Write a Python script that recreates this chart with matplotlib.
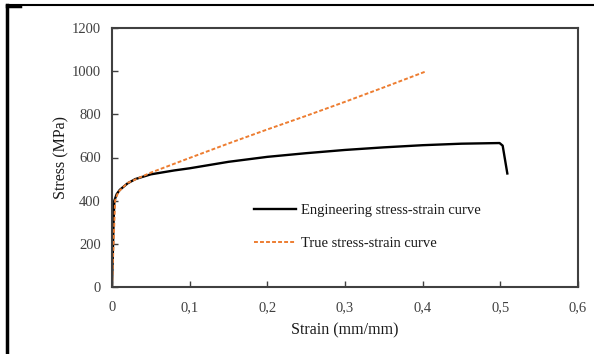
import matplotlib
matplotlib.use("Agg")
import matplotlib.pyplot as plt
from matplotlib.lines import Line2D

eng_strain = [0, 0.001, 0.002, 0.003, 0.006, 0.01, 0.02, 0.03, 0.05, 0.08, 0.1, 0.15,
              0.2, 0.25, 0.3, 0.35, 0.4, 0.45, 0.499, 0.503, 0.509]
eng_stress = [0, 150, 300, 400, 430, 450, 480, 500, 522, 540, 550, 580,
              603, 620, 635, 647, 657, 664, 667, 655, 526]

true_strain = [0, 0.002, 0.004, 0.008, 0.02, 0.05, 0.1, 0.15, 0.2, 0.25, 0.3, 0.35, 0.405]
true_stress = [0, 200, 400, 440, 482, 530, 598, 665, 730, 793, 858, 925, 1000]

x_ticks = [0, 0.1, 0.2, 0.3, 0.4, 0.5, 0.6]
x_tick_labels = ["0", "0,1", "0,2", "0,3", "0,4", "0,5", "0,6"]
y_ticks = [0, 200, 400, 600, 800, 1000, 1200]

plt.rcParams['font.family'] = ['Liberation Serif', 'DejaVu Serif']

W, H = 594, 354
fig = plt.figure(figsize=(W / 100, H / 100), dpi=100)
ax = fig.add_axes([112 / W, 1 - 287 / H, (578 - 112) / W, (287 - 28) / H])

ax.plot(eng_strain, eng_stress, color='black', lw=1.7, label='Engineering stress-strain curve')
ax.plot(true_strain, true_stress, color='#ED7D31', lw=1.4, ls=(0, (2.0, 1.1)),
        label='True stress-strain curve')

ax.set_xlim(0, 0.6)
ax.set_ylim(0, 1200)
ax.set_xticks(x_ticks)
ax.set_xticklabels(x_tick_labels)
ax.set_yticks(y_ticks)
ax.tick_params(direction='in', length=4, width=1, color='#404040', labelsize=10.5,
               labelcolor='#404040', pad=10)
ax.tick_params(axis='y', pad=8)
for s in ax.spines.values():
    s.set_color('#404040')
    s.set_linewidth(1.5)

ax.set_xlabel('Strain (mm/mm)', fontsize=11.5, color='#1a1a1a', labelpad=6)
ax.set_ylabel('Stress (MPa)', fontsize=11.5, color='#1a1a1a', labelpad=2)

ax.legend(loc='upper left', bbox_to_anchor=((241 - 112) / (578 - 112), (287 - 191) / (287 - 28)),
          frameon=False, fontsize=10.5, handlelength=2.9, handletextpad=0.3,
          labelspacing=1.35, labelcolor='#1a1a1a')

# outer frame lines
fig.add_artist(Line2D([7 / W, 1], [1 - 5 / H, 1 - 5 / H], color='black', lw=1.5,
                      transform=fig.transFigure))
fig.add_artist(Line2D([7 / W, 7 / W], [1 - 5 / H, 0], color='black', lw=2.5,
                      transform=fig.transFigure))
fig.add_artist(Line2D([7 / W, 20 / W], [1 - 6 / H, 1 - 6 / H], color='black', lw=2.5,
                      transform=fig.transFigure))

fig.savefig('out.png', dpi=100)
